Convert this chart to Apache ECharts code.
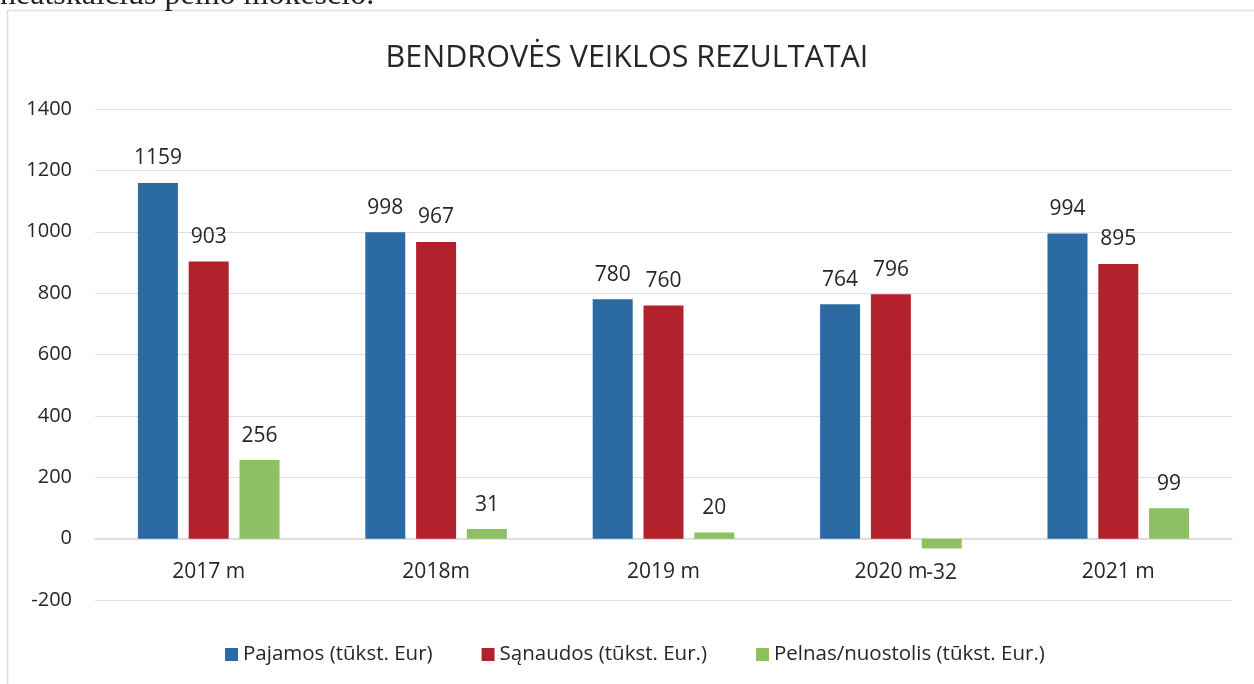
<!DOCTYPE html>
<html>
<head>
<meta charset="utf-8">
<script src="https://cdn.jsdelivr.net/npm/echarts@6/dist/echarts.min.js"></script>
<style>
  html, body { margin: 0; padding: 0; background: #fff; }
  #chart { width: 1254px; height: 684px; }
</style>
</head>
<body>
<div id="chart"></div>
<script>
const years = ['2017 m', '2018m', '2019 m', '2020 m', '2021 m']
const pajamos = [1159, 998, 780, 764, 994]
const sanaudos = [903, 967, 760, 796, 895]
const pelnas = [256, 31, 20, -32, 99]
const seriesNames = ['Pajamos (tūkst. Eur)', 'Sąnaudos (tūkst. Eur.)', 'Pelnas/nuostolis (tūkst. Eur.)']

const font = '"Open Sans", sans-serif'
const textColor = '#262626'

const valueLabel = {
  show: true,
  position: 'top',
  distance: 14,
  fontFamily: font,
  fontSize: 21,
  color: textColor
}

// negative values get their label under the bar
const withLabels = (values) => values.map(v => (v < 0
  ? { value: v, label: { position: 'bottom', distance: 14 } }
  : v))

const makeSeries = (name, values, color) => ({
  name,
  type: 'bar',
  barWidth: 40,
  barGap: '27%',
  itemStyle: { color },
  label: valueLabel,
  data: withLabels(values)
})

const myChart = echarts.init(document.getElementById('chart'))
myChart.setOption({
  animation: false,
  textStyle: { fontFamily: font },
  title: {
    text: 'BENDROVĖS VEIKLOS REZULTATAI',
    left: 'center',
    top: 38,
    textStyle: { fontFamily: font, fontSize: 30.5, fontWeight: 'normal', color: textColor }
  },
  legend: {
    bottom: 14,
    left: 220,
    itemWidth: 13,
    itemHeight: 13,
    itemGap: 49,
    icon: 'rect',
    textStyle: { fontFamily: font, fontSize: 20.5, color: textColor },
    data: seriesNames
  },
  grid: { left: 95, right: 22, top: 109, bottom: 84, containLabel: false },
  xAxis: {
    type: 'category',
    data: years,
    axisTick: { show: false },
    axisLine: { onZero: true, lineStyle: { color: '#d8d8e4', width: 1.5 } },
    // labels sit just under the zero line, not under the -200 line
    axisLabel: { fontFamily: font, fontSize: 21, color: textColor, margin: -38 }
  },
  yAxis: {
    type: 'value',
    min: -200,
    max: 1400,
    interval: 200,
    axisLine: { show: false },
    axisTick: { show: false },
    splitLine: { lineStyle: { color: '#dedeea', width: 1 } },
    axisLabel: {
      fontFamily: font,
      fontSize: 20,
      color: textColor,
      margin: 23,
      formatter: (v) => String(v)
    }
  },
  graphic: [
    {
      type: 'rect',
      shape: { x: 7.5, y: 10.5, width: 1260, height: 700 },
      style: { fill: 'none', stroke: '#dcdce6', lineWidth: 1.5 },
      silent: true
    },
    {
      type: 'text',
      x: 0,
      y: -4,
      style: {
        text: 'neatskaičius pelno mokesčio.',
        fontFamily: '"Liberation Serif", serif',
        fontSize: 32,
        verticalAlign: 'middle',
        fill: '#222'
      },
      silent: true
    }
  ],
  series: [
    makeSeries(seriesNames[0], pajamos, '#2c6aa3'),
    makeSeries(seriesNames[1], sanaudos, '#b3222c'),
    makeSeries(seriesNames[2], pelnas, '#8dc063')
  ]
})
</script>
</body>
</html>
